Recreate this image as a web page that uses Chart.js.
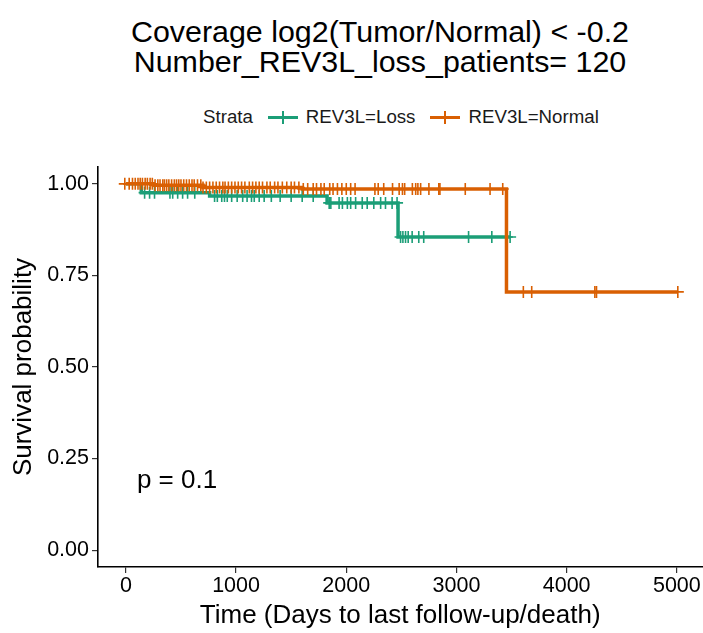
<!DOCTYPE html>
<html>
<head>
<meta charset="utf-8">
<script src="https://cdn.jsdelivr.net/npm/chart.js@4"></script>
<style>
  html, body { margin: 0; padding: 0; background: #fff; }
  body { width: 703px; height: 633px; position: relative; overflow: hidden;
         font-family: "Liberation Sans", Arial, sans-serif; }
  #wrap { position: absolute; left: 0; top: 0; width: 710px; height: 633px; }
  #title { position: absolute; left: 0; top: 16px; width: 760px; text-align: center;
           font-size: 30.4px; line-height: 30px; color: #000; }
  #legend { position: absolute; left: 203px; top: 105px; font-size: 18.7px; color: #1a1a1a;
            white-space: nowrap; }
  #legend span { display: inline-block; vertical-align: middle; }
  .mark { position: relative; width: 30px; height: 14px; margin: 0 8px 0 15px; }
  .mark::before { content: ""; position: absolute; left: 0; right: 0; top: 6px; height: 3px; }
  .mark::after { content: ""; position: absolute; left: 14px; width: 2px; top: 1px; height: 13px; }
  .loss::before, .loss::after { background: #1B9E77; }
  .normal::before, .normal::after { background: #D95F02; }
</style>
</head>
<body>
<div id="title">Coverage log2(Tumor/Normal) &lt; -0.2<br>Number_REV3L_loss_patients= 120</div>
<div id="legend"><span>Strata</span><span class="mark loss"></span><span>REV3L=Loss</span><span class="mark normal"></span><span>REV3L=Normal</span></div>
<div id="wrap"><canvas id="kmChart" width="710" height="633"></canvas></div>
<script>
// Kaplan-Meier steps: time (days) and survival after the event
const lossTimes = [0, 140, 760, 1826, 2470, 3487];
const lossSurv = [1.0, 0.976, 0.967, 0.948, 0.855, 0.855];
const normalTimes = [0, 250, 700, 1600, 3454, 5009];
const normalSurv = [1.0, 0.996, 0.990, 0.986, 0.705, 0.705];

// censored times
const lossCensor = [170, 215, 260, 400, 425, 470, 515, 560, 625, 805, 830, 870, 895, 920, 960,
  1010, 1060, 1100, 1140, 1165, 1210, 1255, 1320, 1400, 1500, 1600, 1700,
  1845, 1860, 1935, 1965, 2010, 2040, 2085, 2145, 2190, 2250, 2312, 2356, 2416, 2461,
  2493, 2514, 2538, 2562, 2598, 2658, 2703, 3110, 3321, 3457, 3487];
const normalCensor = [-10, 30, 60, 85, 110, 130, 150, 175, 195, 220, 240, 265, 290, 310, 335, 350,
  370, 390, 415, 440, 460, 480, 500, 525, 550, 575, 600, 620, 650, 680, 700, 730, 760, 790,
  820, 850, 880, 900, 930, 960, 990, 1020, 1050, 1080, 1120, 1150, 1180, 1210, 1240, 1280,
  1310, 1350, 1380, 1420, 1460, 1500, 1530, 1570, 1610, 1650, 1700, 1730, 1770, 1800, 1850,
  1880, 1920, 1960, 2000, 2040, 2080, 2260, 2290, 2340, 2420, 2480, 2510, 2530, 2600, 2630,
  2650, 2675, 2750, 2840, 2850, 3080, 3305, 3420, 3607, 3683, 4256, 4271, 5009];

const xTicks = [0, 1000, 2000, 3000, 4000, 5000];
const yTicks = [0, 0.25, 0.5, 0.75, 1.0];
const pLabel = "p = 0.1";

const green = "#1B9E77";
const orange = "#D95F02";

function survAt(times, surv, t) {
  let s = surv[0];
  for (let i = 0; i < times.length; i++) {
    if (times[i] <= t) s = surv[i];
  }
  return s;
}

const lossLine = lossTimes.map((t, i) => ({ x: t, y: lossSurv[i] }));
const normalLine = normalTimes.map((t, i) => ({ x: t, y: normalSurv[i] }));
const lossMarks = lossCensor.map(t => ({ x: t, y: survAt(lossTimes, lossSurv, t) }));
const normalMarks = normalCensor.map(t => ({ x: t, y: survAt(normalTimes, normalSurv, t) }));

const pValuePlugin = {
  id: "pValue",
  afterDatasetsDraw(chart) {
    const { ctx, scales } = chart;
    ctx.save();
    ctx.font = '26px "Liberation Sans", Arial, sans-serif';
    ctx.fillStyle = "#000";
    ctx.textBaseline = "middle";
    ctx.fillText(pLabel, scales.x.getPixelForValue(100), scales.y.getPixelForValue(0.19));
    ctx.restore();
  }
};

const tickFont = { family: '"Liberation Sans", Arial, sans-serif', size: 21.5 };
const titleFont = { family: '"Liberation Sans", Arial, sans-serif', size: 26 };

const config = {
  type: "line",
  data: {
    datasets: [
      { data: lossLine, borderColor: green, borderWidth: 3.5, stepped: "before", pointRadius: 0, fill: false, order: 2 },
      { data: normalLine, borderColor: orange, borderWidth: 3.5, stepped: "before", pointRadius: 0, fill: false, order: 1 },
      { data: lossMarks, showLine: false, pointStyle: "cross", pointRadius: 6, borderColor: green, borderWidth: 1.6, order: 2 },
      { data: normalMarks, showLine: false, pointStyle: "cross", pointRadius: 6, borderColor: orange, borderWidth: 1.6, order: 1 }
    ]
  },
  options: {
    responsive: false,
    animation: false,
    layout: { padding: { top: 167, right: 0, left: 0, bottom: 0 } },
    plugins: { legend: { display: false }, tooltip: { enabled: false } },
    scales: {
      x: {
        type: "linear",
        min: -253,
        max: 5232,
        afterFit(s) { s.height = 66; s.paddingRight = 0; s.paddingLeft = 0; },
        afterBuildTicks(s) { s.ticks = xTicks.map(v => ({ value: v })); },
        ticks: { font: tickFont, color: "#000", padding: 0, maxRotation: 0, callback: v => String(v) },
        grid: { drawOnChartArea: false, drawTicks: true, tickLength: 6, color: "#333", lineWidth: 1.2 },
        border: { display: true, color: "#000", width: 1.6 },
        title: { display: true, text: "Time (Days to last follow-up/death)", font: titleFont, color: "#000", padding: { top: 0, bottom: 2 } }
      },
      y: {
        min: -0.046,
        max: 1.046,
        afterFit(s) { s.width = 98; s.paddingTop = 0; s.paddingBottom = 0; },
        afterBuildTicks(s) { s.ticks = yTicks.map(v => ({ value: v })); },
        ticks: { font: tickFont, color: "#000", padding: 3, callback: v => v.toFixed(2) },
        grid: { drawOnChartArea: false, drawTicks: true, tickLength: 6, color: "#333", lineWidth: 1.2 },
        border: { display: true, color: "#000", width: 1.6 },
        title: { display: true, text: "Survival probability", font: titleFont, color: "#000", padding: { top: 8, bottom: 0 } }
      }
    }
  },
  plugins: [pValuePlugin]
};

const ctx = document.getElementById("kmChart").getContext("2d");
const kmChart = new Chart(ctx, config);
</script>
</body>
</html>
